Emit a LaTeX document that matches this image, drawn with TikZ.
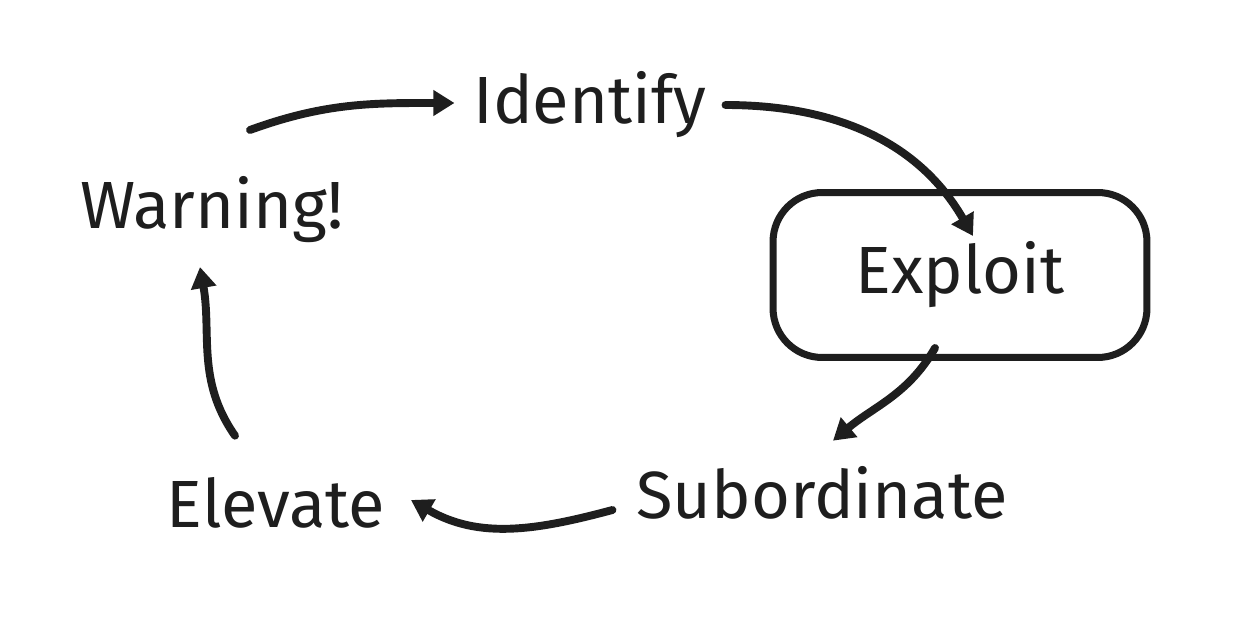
\documentclass[tikz,border=0pt]{standalone}
\usepackage{fontspec}
\setmainfont{Fira Sans}
\usetikzlibrary{arrows.meta}
\tikzset{
  word/.style={font=\fontsize{38}{44}\selectfont, text=ink, inner sep=2pt},
  flow/.style={draw=ink, line width=4.5pt, line cap=round, -{Triangle[length=12pt,width=14pt]}},
}
\definecolor{ink}{HTML}{1E1E1E}
\begin{document}
\begin{tikzpicture}[x=0.02cm,y=-0.02cm]
  \useasboundingbox (0,0) rectangle (1242,628);
  % the steps
  \node[word] (identify) at (590,105) {Identify};
  \node[word] (warning) at (212,210) {Warning!};
  \node[word, draw=ink, line width=4pt, rounded corners=28pt, minimum width=7.48cm, minimum height=3.3cm] (exploit) at (960,275) {Exploit};
  \node[word] (subordinate) at (822,493) {Subordinate};
  \node[word] (elevate) at (276,503) {Elevate};
  % the cycle
  \draw[flow] ([shift={(38,-43)}]warning.north) to[out=20,in=180] ([shift={(-15,-2)}]identify.west);
  \draw[flow] ([shift={(15,0)}]identify.east) to[out=0,in=120] ([shift={(13,47)}]exploit.north);
  \draw[flow] ([shift={(-25,-13)}]exploit.south) to[out=-120,in=40] ([shift={(11,-22)}]subordinate.north);
  \draw[flow] ([shift={(-20,17)}]subordinate.west) to[out=195,in=-30] ([shift={(22,-3)}]elevate.east);
  \draw[flow] ([shift={(-41,-38)}]elevate.north) to[out=125,in=-80] ([shift={(-12,20)}]warning.south);
\end{tikzpicture}
\end{document}
